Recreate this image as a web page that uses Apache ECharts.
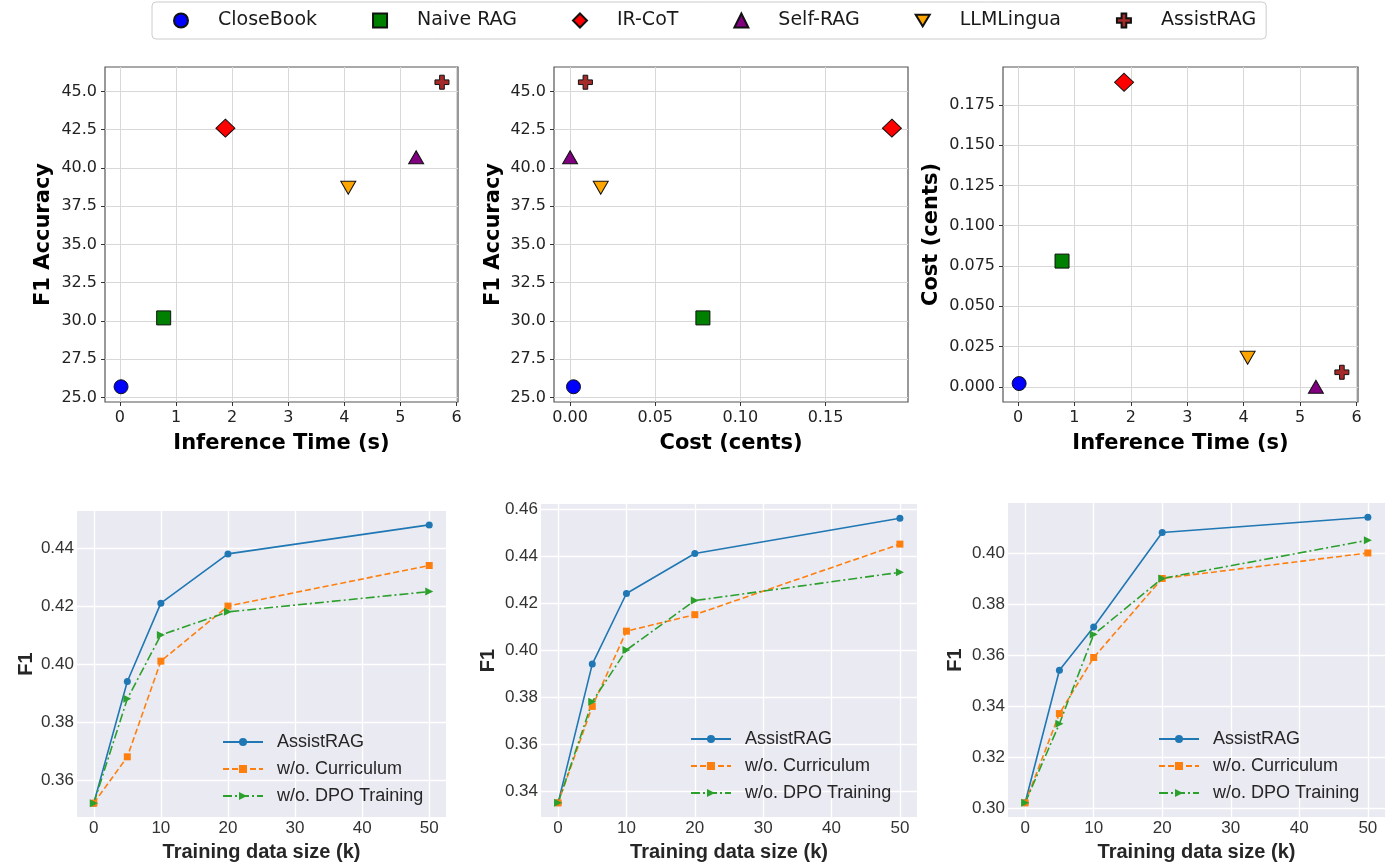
<!DOCTYPE html>
<html>
<head>
<meta charset="utf-8">
<title>AssistRAG: efficiency and training data size</title>
<script src="https://cdn.jsdelivr.net/npm/echarts@6/dist/echarts.min.js"></script>
<style>
    body { margin: 0; background: #fff; }
    #top { position: absolute; left: 0; top: 0; width: 1395px; height: 480px; }
    #bottom { position: absolute; left: 0; top: 480px; width: 1395px; height: 387px; }
</style>
</head>
<body>
<div id="top"></div>
<div id="bottom"></div>
<script>
// ---- top row: efficiency of each method ----
var methods = ['CloseBook', 'Naive RAG', 'IR-CoT', 'Self-RAG', 'LLMLingua', 'AssistRAG'];
var inferenceTime = [0.02, 0.78, 1.88, 5.28, 4.07, 5.74];
var f1Accuracy = [25.7, 30.2, 42.6, 40.7, 38.7, 45.6];
var costCents = [0.002, 0.078, 0.189, 0.0, 0.018, 0.009];

var timeTicks = [0, 1, 2, 3, 4, 5, 6];
var f1Ticks = [25, 27.5, 30, 32.5, 35, 37.5, 40, 42.5, 45];
var costTicks = [0, 0.05, 0.10, 0.15];
var costTicksFine = [0, 0.025, 0.05, 0.075, 0.10, 0.125, 0.15, 0.175];

// ---- bottom row: F1 vs training data size ----
var trainSize = [0, 5, 10, 20, 50];
var lineNames = ['AssistRAG', 'w/o. Curriculum', 'w/o. DPO Training'];

var panelA_assist = [0.352, 0.394, 0.421, 0.438, 0.448];
var panelA_curriculum = [0.352, 0.368, 0.401, 0.420, 0.434];
var panelA_dpo = [0.352, 0.388, 0.410, 0.418, 0.425];

var panelB_assist = [0.335, 0.394, 0.424, 0.441, 0.456];
var panelB_curriculum = [0.335, 0.376, 0.408, 0.415, 0.445];
var panelB_dpo = [0.335, 0.378, 0.400, 0.421, 0.433];

var panelC_assist = [0.302, 0.354, 0.371, 0.408, 0.414];
var panelC_curriculum = [0.302, 0.337, 0.359, 0.390, 0.400];
var panelC_dpo = [0.302, 0.333, 0.368, 0.390, 0.405];

var sizeTicks = [0, 10, 20, 30, 40, 50];
var panelA_ticks = [0.36, 0.38, 0.40, 0.42, 0.44];
var panelB_ticks = [0.34, 0.36, 0.38, 0.40, 0.42, 0.44, 0.46];
var panelC_ticks = [0.30, 0.32, 0.34, 0.36, 0.38, 0.40];

// matplotlib style 5% margins around the data
function padRange(values) {
    var lo = Math.min.apply(null, values), hi = Math.max.apply(null, values);
    var m = (hi - lo) * 0.05;
    return [lo - m, hi + m];
}

// ---------------- top chart ----------------
var topChart = echarts.init(document.getElementById('top'));

// down triangle as a path so the legend shows it the right way up
var markerSymbols = ['circle', 'rect', 'diamond', 'triangle',
    'path://M0,0L12,0L6,10Z',
    'path://M4,0H8V4H12V8H8V12H4V8H0V4H4Z'];
var markerColors = ['#0000ff', '#008000', '#ff0000', '#800080', '#ffa500', '#a52a2a'];
var markerSizes = [14, 14, [19, 18], [15, 13], [15, 13], 14];

function topAxis(grid, range, ticks, digits, name, gap) {
    return {
        type: 'value',
        gridIndex: grid,
        min: range[0],
        max: range[1],
        axisLine: { show: false, onZero: false },
        axisTick: { show: true, inside: false, length: 4, customValues: ticks,
            lineStyle: { color: '#333', width: 1 } },
        axisLabel: { customValues: ticks, margin: 8, color: '#222',
            fontFamily: 'DejaVu Sans', fontSize: 16,
            formatter: function (v) { return v.toFixed(digits); } },
        splitLine: { show: true, lineStyle: { color: '#d8d8d8', width: 1 } },
        name: name,
        nameLocation: 'middle',
        nameGap: gap,
        nameTextStyle: { fontFamily: 'DejaVu Sans', fontWeight: 'bold', fontSize: 21, color: '#000' }
    };
}

var timeRange = padRange(inferenceTime);
var f1Range = padRange(f1Accuracy);
var costRange = padRange(costCents);

var topGrids = [
    { left: 105, top: 67, width: 353, height: 335 },
    { left: 554, top: 67, width: 354, height: 335 },
    { left: 1003, top: 67, width: 355, height: 335 }
];
topGrids.forEach(function (g) {
    g.show = true;
    g.borderColor = '#555';
    g.borderWidth = 1.2;
    g.backgroundColor = 'transparent';
});

// x / y pairs for the three panels
var panelX = [inferenceTime, costCents, inferenceTime];
var panelY = [f1Accuracy, f1Accuracy, costCents];

var topSeries = [];
for (var g = 0; g < 3; g++) {
    for (var m = 0; m < methods.length; m++) {
        topSeries.push({
            type: 'scatter',
            name: methods[m],
            xAxisIndex: g,
            yAxisIndex: g,
            data: [[panelX[g][m], panelY[g][m]]],
            symbol: markerSymbols[m],
            symbolSize: markerSizes[m],
            itemStyle: { color: markerColors[m], borderColor: '#111', borderWidth: 1, opacity: 1 },
            emphasis: { disabled: true }
        });
    }
}

topChart.setOption({
    animation: false,
    legend: {
        top: 2,
        left: 152,
        data: methods,
        itemWidth: 14,
        itemHeight: 14,
        itemGap: 55,
        padding: [9, 10, 9, 21],
        borderColor: '#cccccc',
        borderWidth: 1,
        borderRadius: 4,
        textStyle: { fontFamily: 'DejaVu Sans', fontSize: 19, color: '#1a1a1a', padding: [0, 0, 0, 25] }
    },
    grid: topGrids,
    xAxis: [
        topAxis(0, timeRange, timeTicks, 0, 'Inference Time (s)', 31),
        topAxis(1, costRange, costTicks, 2, 'Cost (cents)', 31),
        topAxis(2, timeRange, timeTicks, 0, 'Inference Time (s)', 31)
    ],
    yAxis: [
        topAxis(0, f1Range, f1Ticks, 1, 'F1 Accuracy', 51),
        topAxis(1, f1Range, f1Ticks, 1, 'F1 Accuracy', 50),
        topAxis(2, costRange, costTicksFine, 3, 'Cost (cents)', 61)
    ],
    series: topSeries
});

// ---------------- bottom chart ----------------
var bottomChart = echarts.init(document.getElementById('bottom'));

var lineColors = ['#1f77b4', '#ff7f0e', '#2ca02c'];
var lineTypes = ['solid', [6, 3], [9, 3, 2, 3]];
var lineSymbols = ['circle', 'rect', 'triangle'];
var lineSymbolRotate = [0, 0, -90];
var lineSymbolSize = [7, 7, 8];

var panels = [
    [panelA_assist, panelA_curriculum, panelA_dpo],
    [panelB_assist, panelB_curriculum, panelB_dpo],
    [panelC_assist, panelC_curriculum, panelC_dpo]
];
var panelTicks = [panelA_ticks, panelB_ticks, panelC_ticks];

var bottomGrids = [
    { left: 77, top: 31, width: 369, height: 312 },
    { left: 541, top: 24, width: 376, height: 316 },
    { left: 1008, top: 23, width: 377, height: 318 }
];
bottomGrids.forEach(function (g) {
    g.show = true;
    g.borderWidth = 0;
    g.backgroundColor = '#eaeaf2';
});

function bottomAxis(grid, range, ticks, digits, name, gap) {
    return {
        type: 'value',
        gridIndex: grid,
        min: range[0],
        max: range[1],
        axisLine: { show: false, onZero: false },
        axisTick: { show: false, customValues: ticks },
        axisLabel: { customValues: ticks, margin: 3, color: '#333',
            fontFamily: 'Liberation Sans', fontSize: 17,
            formatter: function (v) { return v.toFixed(digits); } },
        splitLine: { show: true, lineStyle: { color: '#ffffff', width: 1.3 } },
        name: name,
        nameLocation: 'middle',
        nameGap: gap,
        nameTextStyle: { fontFamily: 'Liberation Sans', fontWeight: 'bold', fontSize: 20, color: '#262626' }
    };
}

var bottomX = [], bottomY = [], bottomSeries = [];
var yNameGap = [41, 43, 43];
for (var p = 0; p < 3; p++) {
    bottomX.push(bottomAxis(p, padRange(trainSize), sizeTicks, 0, 'Training data size (k)', 23));
    var all = panels[p][0].concat(panels[p][1], panels[p][2]);
    bottomY.push(bottomAxis(p, padRange(all), panelTicks[p], 2, 'F1', yNameGap[p]));
    for (var s = 0; s < 3; s++) {
        bottomSeries.push({
            type: 'line',
            name: lineNames[s],
            xAxisIndex: p,
            yAxisIndex: p,
            data: trainSize.map(function (x, i) { return [x, panels[p][s][i]]; }),
            symbol: lineSymbols[s],
            symbolSize: lineSymbolSize[s],
            symbolRotate: lineSymbolRotate[s],
            showAllSymbol: true,
            lineStyle: { color: lineColors[s], width: 1.6, type: lineTypes[s] },
            itemStyle: { color: lineColors[s] },
            emphasis: { disabled: true }
        });
    }
}

function bottomLegend(left, top) {
    return {
        orient: 'vertical',
        left: left,
        top: top,
        data: lineNames,
        padding: 0,
        itemWidth: 40,
        itemHeight: 10,
        itemGap: 9,
        textStyle: { fontFamily: 'Liberation Sans', fontSize: 18, lineHeight: 18,
            color: '#262626', padding: [0, 0, 0, 9] }
    };
}

bottomChart.setOption({
    animation: false,
    legend: [bottomLegend(222, 253), bottomLegend(690, 250), bottomLegend(1158, 250)],
    grid: bottomGrids,
    xAxis: bottomX,
    yAxis: bottomY,
    series: bottomSeries
});
</script>
</body>
</html>
